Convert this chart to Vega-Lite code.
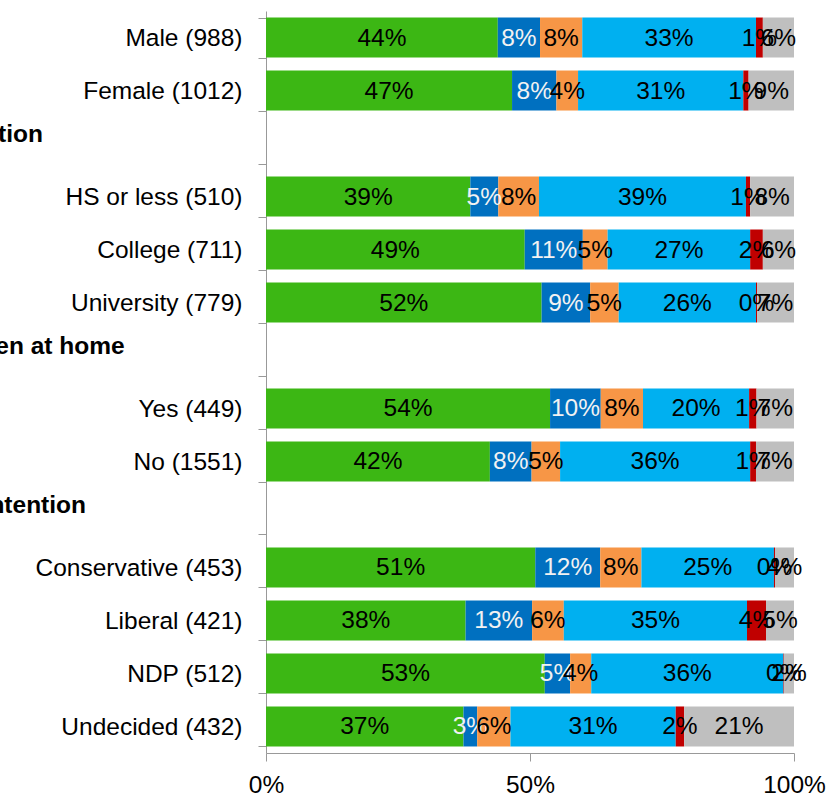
{
  "$schema": "https://vega.github.io/schema/vega-lite/v6.json",
  "width": 528,
  "height": 742,
  "autosize": {"type": "none"},
  "padding": {"left": 266, "top": 11, "right": 35, "bottom": 45},
  "background": "white",
  "config": {"view": {"stroke": null}, "font": "Liberation Sans"},
  "data": {
    "values": [
      {"row": "Male (988)", "s1": 0.439, "s2": 0.080, "s3": 0.080, "s4": 0.329, "s5": 0.013, "s6": 0.059},
      {"row": "Female (1012)", "s1": 0.466, "s2": 0.084, "s3": 0.041, "s4": 0.313, "s5": 0.010, "s6": 0.086},
      {"row": "HS or less (510)", "s1": 0.387, "s2": 0.053, "s3": 0.077, "s4": 0.392, "s5": 0.008, "s6": 0.083},
      {"row": "College (711)", "s1": 0.490, "s2": 0.110, "s3": 0.047, "s4": 0.270, "s5": 0.024, "s6": 0.059},
      {"row": "University (779)", "s1": 0.522, "s2": 0.092, "s3": 0.054, "s4": 0.260, "s5": 0.002, "s6": 0.070},
      {"row": "Yes (449)", "s1": 0.538, "s2": 0.096, "s3": 0.080, "s4": 0.201, "s5": 0.014, "s6": 0.071},
      {"row": "No (1551)", "s1": 0.424, "s2": 0.079, "s3": 0.054, "s4": 0.360, "s5": 0.011, "s6": 0.072},
      {"row": "Conservative (453)", "s1": 0.510, "s2": 0.123, "s3": 0.078, "s4": 0.251, "s5": 0.002, "s6": 0.036},
      {"row": "Liberal (421)", "s1": 0.378, "s2": 0.126, "s3": 0.060, "s4": 0.347, "s5": 0.036, "s6": 0.053},
      {"row": "NDP (512)", "s1": 0.528, "s2": 0.048, "s3": 0.040, "s4": 0.364, "s5": 0.001, "s6": 0.019},
      {"row": "Undecided (432)", "s1": 0.374, "s2": 0.026, "s3": 0.063, "s4": 0.313, "s5": 0.016, "s6": 0.208}
    ]
  },
  "transform": [
    {"fold": ["s1", "s2", "s3", "s4", "s5", "s6"], "as": ["series", "value"]},
    {"stack": "value", "groupby": ["row"], "sort": [{"field": "series"}], "as": ["v0", "v1"]},
    {"calculate": "(datum.v0 + datum.v1) / 2", "as": "mid"}
  ],
  "encoding": {
    "y": {
      "field": "row",
      "type": "nominal",
      "scale": {
        "domain": ["Male (988)", "Female (1012)", "Education", "HS or less (510)", "College (711)", "University (779)", "Children at home", "Yes (449)", "No (1551)", "Vote intention", "Conservative (453)", "Liberal (421)", "NDP (512)", "Undecided (432)"],
        "paddingInner": 0.245,
        "paddingOuter": 0.123
      },
      "axis": {
        "title": null,
        "domainColor": "#999999",
        "tickColor": "#999999",
        "tickSize": 8,
        "tickBand": "extent",
        "labelFontSize": 24.5,
        "labelColor": "black",
        "labelLimit": 0,
        "labelPadding": {"condition": {"test": "indexof(['Education','Children at home','Vote intention'], datum.value) >= 0", "value": 334}, "value": 16},
        "labelAlign": {"condition": {"test": "indexof(['Education','Children at home','Vote intention'], datum.value) >= 0", "value": "left"}, "value": "right"},
        "labelFontWeight": {"condition": {"test": "indexof(['Education','Children at home','Vote intention'], datum.value) >= 0", "value": "bold"}, "value": "normal"},
        "labelOffset": {"condition": {"test": "indexof(['Education','Children at home','Vote intention'], datum.value) >= 0", "value": -9}, "value": 1}
      }
    }
  },
  "layer": [
    {
      "mark": {"type": "bar"},
      "encoding": {
        "x": {
          "field": "v0",
          "type": "quantitative",
          "scale": {"domain": [0, 1], "nice": false, "clamp": true},
          "axis": {
            "title": null,
            "values": [0, 0.5, 1],
            "format": ".0%",
            "labelFontSize": 24.5,
            "labelColor": "black",
            "tickSize": 8,
            "domainColor": "#999999",
            "tickColor": "#999999",
            "labelPadding": 12,
            "grid": false,
            "labelFlush": false,
            "labelOverlap": false
          }
        },
        "x2": {"field": "v1"},
        "color": {
          "field": "series",
          "type": "nominal",
          "scale": {"domain": ["s1", "s2", "s3", "s4", "s5", "s6"], "range": ["#3CB714", "#0070C0", "#F79646", "#00B0F0", "#C00000", "#BFBFBF"]},
          "legend": null
        }
      }
    },
    {
      "mark": {"type": "text", "fontSize": 24.5, "baseline": "middle", "align": "center", "dy": 1},
      "encoding": {
        "x": {"field": "mid", "type": "quantitative"},
        "text": {"field": "value", "type": "quantitative", "format": ".0%"},
        "color": {"condition": {"test": "datum.series === 's2'", "value": "#F2F2F2"}, "value": "black"}
      }
    }
  ]
}
